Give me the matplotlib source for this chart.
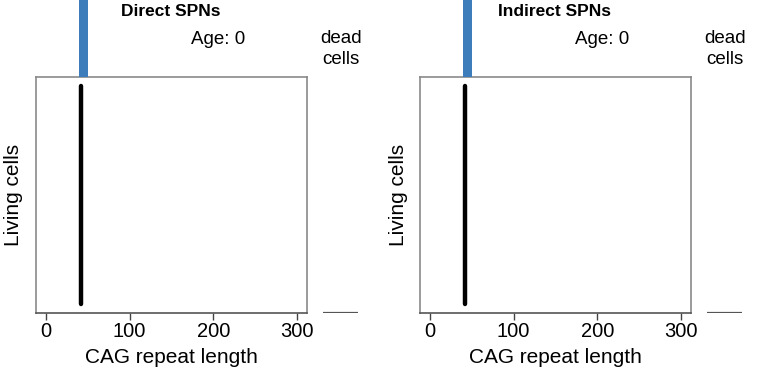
import matplotlib
matplotlib.use("Agg")
import matplotlib.pyplot as plt

plt.rcParams['font.family'] = ['Liberation Sans', 'DejaVu Sans']

# data
panels = ["Direct SPNs", "Indirect SPNs"]
age = 0
cag_living = [42, 42]          # CAG length of living cells (all cells the same at age 0)
cell_pos = [0.0, 1.0]          # cells spread over the y axis
hist_bins = [40, 50]           # histogram bin holding all cells
hist_count = [500, 500]        # far above the strip, so bar runs off the top
dead_count = [0, 0]
xticks = [0, 100, 200, 300]

W, H = 768, 384
fig = plt.figure(figsize=(W / 100, H / 100), dpi=100)

def fr(x0, x1, ytop, ybot):
    return [x0 / W, (H - ybot) / H, (x1 - x0) / W, (ybot - ytop) / H]

box_col = "#8a8a8a"
for i, name in enumerate(panels):
    off = i * 384

    # main panel
    ax = fig.add_axes(fr(36 + off, 307 + off, 77, 313))
    ax.plot([cag_living[i], cag_living[i]], cell_pos, color="black", lw=3.2,
            solid_capstyle="round")
    ax.set_xlim(-12, 312)
    ax.set_ylim(-0.04, 1.04)
    ax.set_yticks([])
    ax.set_xticks(xticks)
    ax.tick_params(axis="x", length=5, width=1, color="#444444",
                   labelsize=14.5, pad=1.5)
    for s in ax.spines.values():
        s.set_color(box_col)
        s.set_linewidth(1.2)
    ax.spines["bottom"].set_color("#555555")
    ax.set_xlabel("CAG repeat length", fontsize=15, labelpad=5)

    # top histogram strip
    axh = fig.add_axes(fr(36 + off, 307 + off, 0, 77))
    axh.bar(hist_bins[0], hist_count[i], width=hist_bins[1] - hist_bins[0],
            align="edge", color="#3d7dbb", edgecolor="none")
    axh.set_xlim(-12, 312)
    axh.set_ylim(0, 100)
    axh.axis("off")

    # dead cells strip
    axd = fig.add_axes(fr(323 + off, 358 + off, 77, 313))
    axd.bar(0, dead_count[i], width=1, color="#3d7dbb")
    axd.axhline(0, color="#555555", lw=1.6)
    axd.set_xlim(-0.5, 0.5)
    axd.set_ylim(0, 1)
    axd.axis("off")

    fig.text((171 + off) / W, 1 - 12 / H, name, fontsize=12.5,
             fontweight="bold", ha="center", va="center")
    fig.text((218 + off) / W, 1 - 40 / H, f"Age: {age}", fontsize=13.5,
             ha="center", va="center")
    fig.text((341 + off) / W, 1 - 49 / H, "dead\ncells", fontsize=13.5,
             ha="center", va="center", linespacing=1.3)
    fig.text((14 + off) / W, 1 - 195 / H, "Living cells", fontsize=15,
             rotation=90, ha="center", va="center")

fig.savefig("out.png", dpi=100)
